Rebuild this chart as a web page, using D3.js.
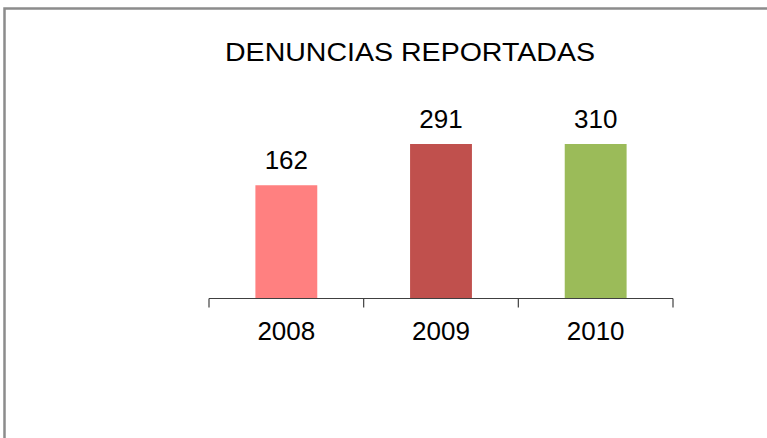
<!DOCTYPE html>
<html><head><meta charset="utf-8">
<script src="https://cdn.jsdelivr.net/npm/d3@7"></script>
<style>body{margin:0;background:#fff}svg{display:block}text{font-family:"Liberation Sans",Arial,sans-serif;fill:#000}</style>
</head><body>
<script>
const title = "DENUNCIAS REPORTADAS";
const categories = ["2008", "2009", "2010"];
const values = [162, 291, 310];
const colors = ["#FF8080", "#C0504D", "#9BBB59"];
const yMax = 221;

const W = 767, H = 438;
const svg = d3.select("body").append("svg").attr("width", W).attr("height", H);

// frame
svg.append("path").attr("d", `M4.5,${H} V8.5 H${W}`).attr("fill","none").attr("stroke","#8c8c8c").attr("stroke-width",2.5);

const x = d3.scaleBand().domain(categories).range([209, 673]).padding(0);
const y = d3.scaleLinear().domain([0, yMax]).range([298.5, 144]).clamp(true);
const barW = x.bandwidth() * 0.4;

svg.append("text").attr("x", 410).attr("y", 61).attr("text-anchor","middle")
  .attr("font-size", 25).attr("textLength", 370).attr("lengthAdjust","spacingAndGlyphs").text(title);

svg.selectAll("rect.bar").data(values).join("rect").attr("class","bar")
  .attr("x", (d,i) => x(categories[i]) + (x.bandwidth()-barW)/2)
  .attr("width", barW)
  .attr("y", d => y(d))
  .attr("height", d => y(0) - y(d))
  .attr("fill", (d,i) => colors[i]);

svg.selectAll("text.val").data(values).join("text").attr("class","val")
  .attr("x", (d,i) => x(categories[i]) + x.bandwidth()/2)
  .attr("y", d => y(d) - 16)
  .attr("text-anchor","middle").attr("font-size", 26).text(d => d);

const axis = d3.axisBottom(x).tickSize(0).tickPadding(0);
const g = svg.append("g").attr("transform", `translate(0,${y(0)})`);
g.append("line").attr("x1", 209).attr("x2", 673).attr("stroke","#404040").attr("stroke-width",1.2);
const bounds = [...categories.map(c => x(c)), x.range()[1]];
g.selectAll("line.tk").data(bounds).join("line").attr("class","tk")
  .attr("x1", d => d).attr("x2", d => d).attr("y1", 0).attr("y2", 9)
  .attr("stroke","#404040").attr("stroke-width",1.2);
g.selectAll("text.cat").data(categories).join("text").attr("class","cat")
  .attr("x", d => x(d) + x.bandwidth()/2).attr("y", 41)
  .attr("text-anchor","middle").attr("font-size", 26).text(d => d);
</script>
</body></html>
